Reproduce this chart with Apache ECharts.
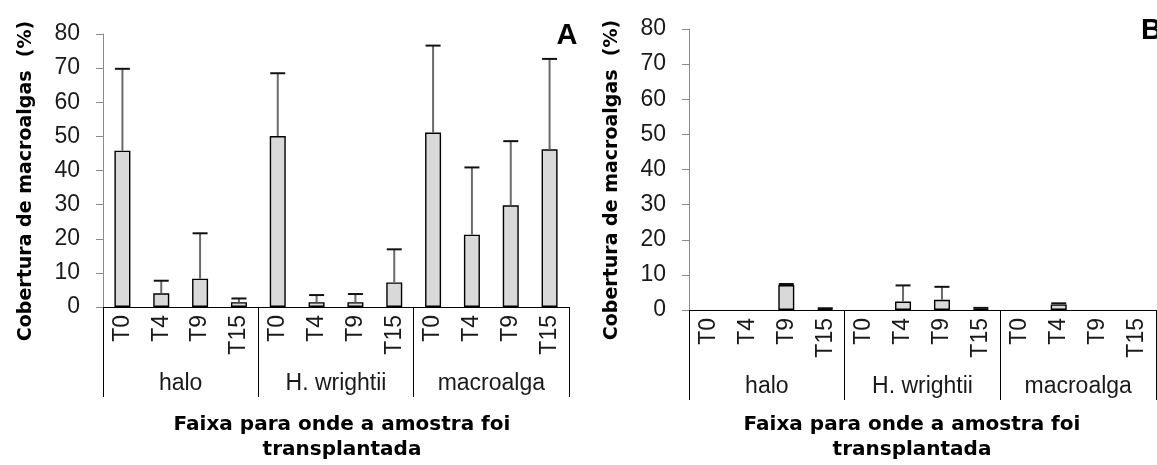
<!DOCTYPE html>
<html>
<head>
<meta charset="utf-8">
<script src="https://cdn.jsdelivr.net/npm/echarts@6/dist/echarts.min.js"></script>
<style>
  html, body { margin: 0; padding: 0; background: #fff; }
  #chart { width: 1157px; height: 465px; }
</style>
</head>
<body>
<div id="chart"></div>
<script>
// Transplant zones and sampling times
const groups = ['halo', 'H. wrightii', 'macroalga'];
const times = ['T0', 'T4', 'T9', 'T15'];
const yTicks = [0, 10, 20, 30, 40, 50, 60, 70, 80];

// Panel A: mean macroalgal cover (%) and standard deviation
const coverA = [45.8, 4.0, 8.3, 1.4, 50.1, 1.4, 1.4, 7.2, 51.1, 21.2, 29.8, 46.2];
const sdA = [24.0, 3.7, 13.3, 1.1, 18.4, 2.1, 2.4, 9.7, 25.5, 19.7, 18.8, 26.5];

// Panel B: mean macroalgal cover (%) and standard deviation
const coverB = [0, 0, 7.1, 0.3, 0, 2.4, 2.9, 0.3, 0, 1.6, 0, 0];
const sdB = [0, 0, 0.3, 0.2, 0, 4.6, 3.7, 0.3, 0, 0.3, 0, 0];

const yTitle = 'Cobertura de macroalgas  (%)';
const xTitle = 'Faixa para onde a amostra foi\ntransplantada';
const panelLetters = ['A', 'B'];

// one category per (zone, time) pair; the label shows only the time
const categories = [];
groups.forEach(g => times.forEach(t => categories.push(g + '|' + t)));

const TICK_FONT = 'Liberation Sans, Arial, sans-serif';
const TITLE_FONT = '"DejaVu Sans", Verdana, sans-serif';

function timeAxis(gridIndex) {
  return {
    type: 'category', gridIndex, data: categories, position: 'bottom',
    axisLine: { show: true, lineStyle: { color: '#000', width: 1 } },
    axisTick: { show: false },
    axisLabel: {
      rotate: 90, margin: 8, interval: 0,
      fontFamily: TICK_FONT, fontSize: 23, color: '#1a1a1a',
      formatter: v => v.split('|')[1]
    },
    splitLine: { show: false }
  };
}

function zoneAxis(gridIndex) {
  return {
    type: 'category', gridIndex, data: groups, position: 'bottom',
    axisLine: { show: false },
    axisTick: { show: true, length: 90, lineStyle: { color: '#000', width: 1 } },
    axisLabel: {
      margin: 65, interval: 0,
      fontFamily: TICK_FONT, fontSize: 23, color: '#1a1a1a'
    },
    splitLine: { show: false }
  };
}

function valueAxis(gridIndex) {
  return {
    type: 'value', gridIndex, min: 0, max: 80, interval: 10,
    axisLine: { show: true, lineStyle: { color: '#8a8a8a', width: 1 } },
    axisTick: { show: true, length: 7, lineStyle: { color: '#8a8a8a', width: 1 } },
    axisLabel: {
      margin: 23, fontFamily: TICK_FONT, fontSize: 23, color: '#1a1a1a',
      formatter: v => (yTicks.indexOf(v) >= 0 ? String(v) : '')
    },
    splitLine: { show: false }
  };
}

// zero means no bar at all, so leave those slots empty
function barSeries(axisIdx, gridY, values) {
  return {
    type: 'bar', xAxisIndex: axisIdx, yAxisIndex: gridY,
    data: values.map(v => (v === 0 ? '-' : v)), barWidth: 16,
    itemStyle: { color: '#d9d9d9', borderColor: '#000', borderWidth: 1.4 },
    silent: true
  };
}

// upper error bar: grey stem from bar top, black cap
function errorSeries(axisIdx, gridY, values, sds) {
  return {
    type: 'custom', xAxisIndex: axisIdx, yAxisIndex: gridY,
    data: values.map((v, i) => [i, v, sds[i]]),
    encode: { x: 0, y: 1 },
    silent: true, z: 5,
    renderItem(params, api) {
      const i = api.value(0), m = api.value(1), s = api.value(2);
      if (!s) return null;
      const base = api.coord([i, m]);
      const top = api.coord([i, m + s]);
      const half = 7.5;
      return {
        type: 'group',
        children: [
          { type: 'line', shape: { x1: top[0], y1: base[1], x2: top[0], y2: top[1] },
            style: { stroke: '#6a6a6a', lineWidth: 2 } },
          { type: 'line', shape: { x1: top[0] - half, y1: top[1], x2: top[0] + half, y2: top[1] },
            style: { stroke: '#111', lineWidth: 2 } }
        ]
      };
    }
  };
}

const chart = echarts.init(document.getElementById('chart'), null, { renderer: 'canvas' });

chart.setOption({
  animation: false,
  backgroundColor: '#fff',
  grid: [
    { left: 103, top: 34, width: 466, height: 273, containLabel: false },
    { left: 689, top: 29, width: 467, height: 281, containLabel: false }
  ],
  xAxis: [timeAxis(0), zoneAxis(0), timeAxis(1), zoneAxis(1)],
  yAxis: [valueAxis(0), valueAxis(1)],
  series: [
    barSeries(0, 0, coverA),
    errorSeries(0, 0, coverA, sdA),
    barSeries(2, 1, coverB),
    errorSeries(2, 1, coverB, sdB)
  ],
  graphic: [
    { type: 'text', x: 26, y: 181, rotation: Math.PI / 2,
      style: { text: yTitle, align: 'center', verticalAlign: 'middle',
               font: 'bold 19px ' + TITLE_FONT, fill: '#000' } },
    { type: 'text', x: 612, y: 180, rotation: Math.PI / 2,
      style: { text: yTitle, align: 'center', verticalAlign: 'middle',
               font: 'bold 19px ' + TITLE_FONT, fill: '#000' } },
    { type: 'text', x: 342, y: 412,
      style: { text: xTitle, align: 'center', verticalAlign: 'top', lineHeight: 25,
               font: 'bold 20px ' + TITLE_FONT, fill: '#000' } },
    { type: 'text', x: 912, y: 412,
      style: { text: xTitle, align: 'center', verticalAlign: 'top', lineHeight: 25,
               font: 'bold 20px ' + TITLE_FONT, fill: '#000' } },
    { type: 'text', x: 567, y: 21,
      style: { text: panelLetters[0], align: 'center', verticalAlign: 'top',
               font: 'bold 29px Liberation Sans, Arial, sans-serif', fill: '#000' } },
    { type: 'text', x: 1141, y: 16,
      style: { text: panelLetters[1], align: 'left', verticalAlign: 'top',
               font: 'bold 29px Liberation Sans, Arial, sans-serif', fill: '#000' } }
  ]
});
</script>
</body>
</html>
